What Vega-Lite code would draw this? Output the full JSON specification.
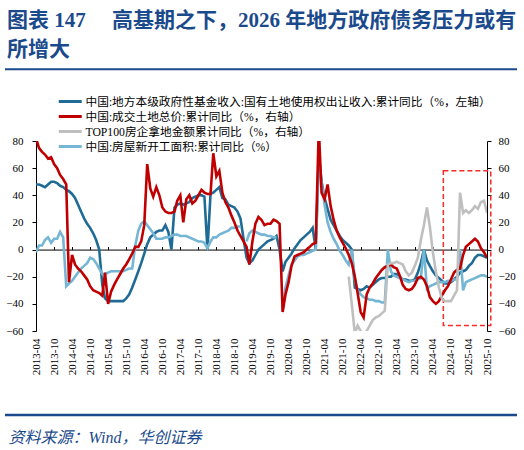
{
  "$schema": "https://vega.github.io/schema/vega-lite/v6.json",
  "width": 451,
  "height": 190,
  "autosize": {"type": "none"},
  "padding": {"left": 36, "top": 141, "right": 37, "bottom": 119},
  "background": "#ffffff",
  "config": {
    "view": {"stroke": null},
    "font": "Liberation Serif, Noto Sans CJK SC",
    "axis": {"grid": false, "labelFont": "Liberation Serif, Noto Sans CJK SC", "labelColor": "#000000", "labelFontSize": 11}
  },
  "title": {
    "text": ["图表 147　 高基期之下，2026 年地方政府债务压力或有", "所增大"],
    "anchor": "start",
    "frame": "group",
    "dx": -29,
    "offset": 8,
    "font": "Liberation Serif, Noto Sans CJK SC",
    "fontSize": 21,
    "fontWeight": "bold",
    "color": "#1b4a8c",
    "lineHeight": 29.5
  },
  "data": {
    "format": {"parse": {"t": "utc:'%Y-%m'"}},
    "values": [
      {"t": "2013-04", "a": 48, "b": 82, "e": -2},
      {"t": "2013-05", "a": 48, "b": 75, "e": 3},
      {"t": "2013-06", "a": 47, "b": 72, "e": 3},
      {"t": "2013-07", "a": 46, "b": 70, "e": 7},
      {"t": "2013-08", "a": 48, "b": 67, "e": 9},
      {"t": "2013-09", "a": 50, "b": 68, "e": 5},
      {"t": "2013-10", "a": 50, "b": 63, "e": 8},
      {"t": "2013-11", "a": 49, "b": 60, "e": 8},
      {"t": "2013-12", "a": 47, "b": 55, "e": 13},
      {"t": "2014-01", "a": 46, "b": 52, "e": 9},
      {"t": "2014-02", "a": 44, "b": 48, "e": -27},
      {"t": "2014-03", "a": 43, "b": -24, "e": -25},
      {"t": "2014-04", "a": 41, "b": -4, "e": -23},
      {"t": "2014-05", "a": 38, "b": -11, "e": -20},
      {"t": "2014-06", "a": 33, "b": -14, "e": -17},
      {"t": "2014-07", "a": 28, "b": -16, "e": -14},
      {"t": "2014-08", "a": 23, "b": -19, "e": -12},
      {"t": "2014-09", "a": 19, "b": -22, "e": -10},
      {"t": "2014-10", "a": 16, "b": -27, "e": -6},
      {"t": "2014-11", "a": 12, "b": -30, "e": -7},
      {"t": "2014-12", "a": 7, "b": -31, "e": -10},
      {"t": "2015-01", "a": 0, "b": -32, "e": -14},
      {"t": "2015-02", "a": -26, "b": -34, "e": -18},
      {"t": "2015-03", "a": -36, "b": -17, "e": -18},
      {"t": "2015-04", "a": -38, "b": -40, "e": -17},
      {"t": "2015-05", "a": -38, "b": -31, "e": -16},
      {"t": "2015-06", "a": -38, "b": -26, "e": -16},
      {"t": "2015-07", "a": -38, "b": -22, "e": -16},
      {"t": "2015-08", "a": -38, "b": -18, "e": -16},
      {"t": "2015-09", "a": -38, "b": -14, "e": -16},
      {"t": "2015-10", "a": -36, "b": -11, "e": -15},
      {"t": "2015-11", "a": -33, "b": -7, "e": -14},
      {"t": "2015-12", "a": -28, "b": -3, "e": -14},
      {"t": "2016-01", "a": -22, "b": 2, "e": 3},
      {"t": "2016-02", "a": -16, "b": 2, "e": 14},
      {"t": "2016-03", "a": -10, "b": 6, "e": 19},
      {"t": "2016-04", "a": -3, "b": 18, "e": 21},
      {"t": "2016-05", "a": 4, "b": 63, "e": 18},
      {"t": "2016-06", "a": 9, "b": 45, "e": 15},
      {"t": "2016-07", "a": 11, "b": 39, "e": 12},
      {"t": "2016-08", "a": 13, "b": 46, "e": 8},
      {"t": "2016-09", "a": 14, "b": 40, "e": 8},
      {"t": "2016-10", "a": 14, "b": 31, "e": 8},
      {"t": "2016-11", "a": 18, "b": 28, "e": 9},
      {"t": "2016-12", "a": 13, "b": 27, "e": 9},
      {"t": "2017-01", "a": 0, "b": 27, "e": 10},
      {"t": "2017-02", "a": 31, "b": 28, "e": 11},
      {"t": "2017-03", "a": 33, "b": 36, "e": 11},
      {"t": "2017-04", "a": 34, "b": 40, "e": 10},
      {"t": "2017-05", "a": 33, "b": 20, "e": 10},
      {"t": "2017-06", "a": 34, "b": 37, "e": 10},
      {"t": "2017-07", "a": 35, "b": 40, "e": 9},
      {"t": "2017-08", "a": 38, "b": 34, "e": 8},
      {"t": "2017-09", "a": 39, "b": 36, "e": 7},
      {"t": "2017-10", "a": 40, "b": 40, "e": 6},
      {"t": "2017-11", "a": 40, "b": 44, "e": 6},
      {"t": "2017-12", "a": 39, "b": 42, "e": 5},
      {"t": "2018-01", "a": 0, "b": 41, "e": 1},
      {"t": "2018-02", "a": 41, "b": 41, "e": 6},
      {"t": "2018-03", "a": 42, "b": 71, "e": 9},
      {"t": "2018-04", "a": 44, "b": 54, "e": 9},
      {"t": "2018-05", "a": 46, "b": 58, "e": 11},
      {"t": "2018-06", "a": 38, "b": 42, "e": 12},
      {"t": "2018-07", "a": 37, "b": 35, "e": 13},
      {"t": "2018-08", "a": 33, "b": 31, "e": 14},
      {"t": "2018-09", "a": 32, "b": 25, "e": 16},
      {"t": "2018-10", "a": 31, "b": 20, "e": 16},
      {"t": "2018-11", "a": 28, "b": 14, "e": 17},
      {"t": "2018-12", "a": 23, "b": 10, "e": 17},
      {"t": "2019-01", "a": 8, "b": 6},
      {"t": "2019-02", "a": -6, "b": 2, "e": 6},
      {"t": "2019-03", "a": -10, "b": -11, "e": 12},
      {"t": "2019-04", "a": -8, "b": 6, "e": 14},
      {"t": "2019-05", "a": -4, "b": 19, "e": 13},
      {"t": "2019-06", "a": 0, "b": 24, "e": 12},
      {"t": "2019-07", "a": 2, "b": 22, "e": 11},
      {"t": "2019-08", "a": 4, "b": 18, "e": 11},
      {"t": "2019-09", "a": 6, "b": 19, "e": 10},
      {"t": "2019-10", "a": 7, "b": 19, "e": 10},
      {"t": "2019-11", "a": 8, "b": 22, "e": 9},
      {"t": "2019-12", "a": 10, "b": 21, "e": 9},
      {"t": "2020-01", "a": 0, "b": 19},
      {"t": "2020-02", "a": -16, "b": -46, "e": -45},
      {"t": "2020-03", "a": -9, "b": -33, "e": -28},
      {"t": "2020-04", "a": -6, "b": -24, "e": -19},
      {"t": "2020-05", "a": -3, "b": -12, "e": -11},
      {"t": "2020-06", "a": 1, "b": -5, "e": -8},
      {"t": "2020-07", "a": 4, "b": -4, "e": -5},
      {"t": "2020-08", "a": 7, "b": -3, "e": -4},
      {"t": "2020-09", "a": 9, "b": -2, "e": -4},
      {"t": "2020-10", "a": 11, "b": 0, "e": -3},
      {"t": "2020-11", "a": 13, "b": 2, "e": -2},
      {"t": "2020-12", "a": 16, "b": 4, "e": -1},
      {"t": "2021-01", "a": 0, "b": 5, "e": 0},
      {"t": "2021-02", "a": 70, "b": 90, "e": 65},
      {"t": "2021-03", "a": 50, "b": 42, "e": 50},
      {"t": "2021-04", "a": 38, "b": 37, "e": 33},
      {"t": "2021-05", "a": 30, "b": 48, "e": 20},
      {"t": "2021-06", "a": 22, "b": 32, "e": 13},
      {"t": "2021-07", "a": 18, "b": 22, "e": 8},
      {"t": "2021-08", "a": 14, "b": 14, "e": 4},
      {"t": "2021-09", "a": 10, "b": 9, "e": -1},
      {"t": "2021-10", "a": 7, "b": 5, "e": -4},
      {"t": "2021-11", "a": 5, "b": 1, "e": -8},
      {"t": "2021-12", "a": 3, "b": -4, "c": -20, "e": -11},
      {"t": "2022-01", "a": 0, "b": -10, "c": -40, "e": 0},
      {"t": "2022-02", "a": -28, "b": -20, "c": -62, "e": -22},
      {"t": "2022-03", "a": -29, "b": -32, "c": -56, "e": -30},
      {"t": "2022-04", "a": -30, "b": -46, "c": -60, "e": -33},
      {"t": "2022-05", "a": -29, "b": -50, "c": -62, "e": -35},
      {"t": "2022-06", "a": -27, "b": -33, "c": -60, "e": -36},
      {"t": "2022-07", "a": -28, "b": -28, "c": -56, "e": -37},
      {"t": "2022-08", "a": -26, "b": -25, "c": -52, "e": -37},
      {"t": "2022-09", "a": -24, "b": -21, "c": -50, "e": -38},
      {"t": "2022-10", "a": -22, "b": -18, "c": -49, "e": -38},
      {"t": "2022-11", "a": -21, "b": -15, "c": -47, "e": -39},
      {"t": "2022-12", "a": -21, "b": -13, "c": -45, "e": -39},
      {"t": "2023-01", "a": -20, "b": -12, "c": -11, "e": 0},
      {"t": "2023-02", "a": -20, "b": -11, "c": -10, "e": -16},
      {"t": "2023-03", "a": -18, "b": -13, "c": -10, "e": -19},
      {"t": "2023-04", "a": -18, "b": -14, "c": -9, "e": -20},
      {"t": "2023-05", "a": -20, "b": -19, "c": -10, "e": -21},
      {"t": "2023-06", "a": -22, "b": -26, "c": -11, "e": -22},
      {"t": "2023-07", "a": -22, "b": -29, "c": -16, "e": -23},
      {"t": "2023-08", "a": -23, "b": -30, "c": -19, "e": -24},
      {"t": "2023-09", "a": -23, "b": -29, "c": -17, "e": -23},
      {"t": "2023-10", "a": -22, "b": -26, "c": -12, "e": -23},
      {"t": "2023-11", "a": -17, "b": -21, "c": -6, "e": -22},
      {"t": "2023-12", "a": -10, "b": -20, "c": 7, "e": -21},
      {"t": "2024-01", "a": 0, "b": -22, "c": 18, "e": 0},
      {"t": "2024-02", "a": -8, "b": -27, "c": 31, "e": -29},
      {"t": "2024-03", "a": -12, "b": -35, "c": 17, "e": -27},
      {"t": "2024-04", "a": -16, "b": -38, "c": -2, "e": -26},
      {"t": "2024-05", "a": -19, "b": -40, "c": -16, "e": -25},
      {"t": "2024-06", "a": -21, "b": -38, "c": -28, "e": -24},
      {"t": "2024-07", "a": -23, "b": -34, "c": -36, "e": -24},
      {"t": "2024-08", "a": -25, "b": -30, "c": -38, "e": -24},
      {"t": "2024-09", "a": -25, "b": -27, "c": -38, "e": -23},
      {"t": "2024-10", "a": -24, "b": -22, "c": -38, "e": -23},
      {"t": "2024-11", "a": -22, "b": -17, "c": -34, "e": -22},
      {"t": "2024-12", "a": -20, "b": -15, "c": -30, "e": -22},
      {"t": "2025-01", "a": -17, "b": -14, "c": 42, "e": 0},
      {"t": "2025-02", "a": -16, "b": -4, "c": 27, "e": -30},
      {"t": "2025-03", "a": -15, "b": 2, "c": 29, "e": -24},
      {"t": "2025-04", "a": -12, "b": 4, "c": 27, "e": -23},
      {"t": "2025-05", "a": -10, "b": 6, "c": 29, "e": -22},
      {"t": "2025-06", "a": -6, "b": 8, "c": 32, "e": -21},
      {"t": "2025-07", "a": -4, "b": 6, "c": 30, "e": -20},
      {"t": "2025-08", "a": -4, "b": 1, "c": 35, "e": -19},
      {"t": "2025-09", "a": -5, "b": -2, "c": 36, "e": -19},
      {"t": "2025-10", "a": -6, "b": -6, "c": 27, "e": -20}
    ]
  },
  "layer": [
    {
      "data": {"values": [{}]},
      "mark": {"type": "rule", "clip": false, "color": "#1b4a8c", "strokeWidth": 2},
      "encoding": {
        "x": {"datum": {"year": 2012, "month": 5, "date": 22, "utc": true}, "type": "temporal", "scale": {"type": "utc"}, "axis": null},
        "x2": {"datum": {"year": 2026, "month": 8, "date": 1, "utc": true}},
        "y": {"datum": 132.8, "type": "quantitative", "axis": null}
      }
    },
    {
      "data": {"values": [{}]},
      "mark": {"type": "rule", "clip": false, "color": "#1b4a8c", "strokeWidth": 2.5},
      "encoding": {
        "x": {"datum": {"year": 2012, "month": 5, "date": 22, "utc": true}, "type": "temporal", "axis": null},
        "x2": {"datum": {"year": 2026, "month": 8, "date": 1, "utc": true}},
        "y": {"datum": -121.9, "type": "quantitative", "axis": null}
      }
    },
    {
      "data": {"values": [{}]},
      "mark": {"type": "rect", "clip": false, "fillOpacity": 0, "stroke": "#f52a2a", "strokeWidth": 1.5, "strokeDash": [5, 3]},
      "encoding": {
        "x": {"datum": {"year": 2024, "month": 7, "date": 16, "utc": true}, "type": "temporal", "axis": null},
        "x2": {"datum": {"year": 2025, "month": 11, "date": 8, "utc": true}},
        "y": {"datum": 58, "type": "quantitative", "axis": null},
        "y2": {"datum": -56}
      }
    },
    {
      "transform": [{"fold": ["a", "e"], "as": ["k", "v"]}],
      "mark": {"type": "line", "clip": true, "strokeWidth": 2.6},
      "encoding": {
        "x": {
          "field": "t",
          "type": "temporal",
          "scale": {"type": "utc", "domain": [{"year": 2013, "month": 4, "date": 1, "utc": true}, {"year": 2025, "month": 10, "date": 1, "utc": true}]},
          "axis": {
            "orient": "bottom",
            "values": [
              {"year": 2013, "month": 4, "utc": true}, {"year": 2013, "month": 10, "utc": true},
              {"year": 2014, "month": 4, "utc": true}, {"year": 2014, "month": 10, "utc": true},
              {"year": 2015, "month": 4, "utc": true}, {"year": 2015, "month": 10, "utc": true},
              {"year": 2016, "month": 4, "utc": true}, {"year": 2016, "month": 10, "utc": true},
              {"year": 2017, "month": 4, "utc": true}, {"year": 2017, "month": 10, "utc": true},
              {"year": 2018, "month": 4, "utc": true}, {"year": 2018, "month": 10, "utc": true},
              {"year": 2019, "month": 4, "utc": true}, {"year": 2019, "month": 10, "utc": true},
              {"year": 2020, "month": 4, "utc": true}, {"year": 2020, "month": 10, "utc": true},
              {"year": 2021, "month": 4, "utc": true}, {"year": 2021, "month": 10, "utc": true},
              {"year": 2022, "month": 4, "utc": true}, {"year": 2022, "month": 10, "utc": true},
              {"year": 2023, "month": 4, "utc": true}, {"year": 2023, "month": 10, "utc": true},
              {"year": 2024, "month": 4, "utc": true}, {"year": 2024, "month": 10, "utc": true},
              {"year": 2025, "month": 4, "utc": true}, {"year": 2025, "month": 10, "utc": true}
            ],
            "format": "%Y-%m",
            "labelAngle": -90,
            "labelAlign": "right",
            "labelBaseline": "middle",
            "labelPadding": 7,
            "labelOverlap": false,
            "labelFlush": false,
            "domain": false,
            "ticks": false,
            "title": "资料来源：Wind，华创证券",
            "titleX": -28,
            "titleY": 106,
            "titleAlign": "left",
            "titleAnchor": "start",
            "titleBaseline": "middle",
            "titleAngle": 0,
            "titleFont": "Liberation Serif, Noto Sans CJK SC",
            "titleFontSize": 16,
            "titleFontStyle": "italic",
            "titleFontWeight": "normal",
            "titleColor": "#1b4a8c"
          }
        },
        "y": {
          "field": "v",
          "type": "quantitative",
          "scale": {"domain": [-60, 80], "nice": false, "zero": false},
          "axis": {"orient": "left", "values": [-60, -40, -20, 0, 20, 40, 60, 80], "title": null, "domainColor": "#000000", "tickColor": "#000000", "tickSize": 4, "labelPadding": 9}
        },
        "color": {
          "field": "k",
          "type": "nominal",
          "scale": {"domain": ["a", "b", "c", "e"], "range": ["#1f6b96", "#c00000", "#bfbfbf", "#74b6d4"]},
          "legend": {
            "orient": "none",
            "legendX": 26.75,
            "legendY": -47,
            "title": null,
            "symbolType": "M-2,0H2",
            "symbolSize": 132,
            "symbolStrokeWidth": 3,
            "rowPadding": 0,
            "labelOffset": 7.75,
            "labelFont": "Liberation Serif, Noto Sans CJK SC",
            "labelFontSize": 11.7,
            "labelColor": "#000000",
            "labelLimit": 600,
            "labelExpr": "{'a': '中国:地方本级政府性基金收入:国有土地使用权出让收入:累计同比（%，左轴）', 'b': '中国:成交土地总价:累计同比（%，右轴）', 'c': 'TOP100房企拿地金额累计同比（%，右轴）', 'e': '中国:房屋新开工面积:累计同比（%）'}[datum.label]"
          }
        }
      }
    },
    {
      "transform": [{"fold": ["b", "c"], "as": ["k", "v"]}],
      "mark": {"type": "line", "clip": true, "strokeWidth": 2.6},
      "encoding": {
        "x": {
          "field": "t",
          "type": "temporal",
          "axis": {
            "orient": "bottom",
            "offset": -81.43,
            "values": [
              {"year": 2013, "month": 4, "utc": true}, {"year": 2013, "month": 10, "utc": true},
              {"year": 2014, "month": 4, "utc": true}, {"year": 2014, "month": 10, "utc": true},
              {"year": 2015, "month": 4, "utc": true}, {"year": 2015, "month": 10, "utc": true},
              {"year": 2016, "month": 4, "utc": true}, {"year": 2016, "month": 10, "utc": true},
              {"year": 2017, "month": 4, "utc": true}, {"year": 2017, "month": 10, "utc": true},
              {"year": 2018, "month": 4, "utc": true}, {"year": 2018, "month": 10, "utc": true},
              {"year": 2019, "month": 4, "utc": true}, {"year": 2019, "month": 10, "utc": true},
              {"year": 2020, "month": 4, "utc": true}, {"year": 2020, "month": 10, "utc": true},
              {"year": 2021, "month": 4, "utc": true}, {"year": 2021, "month": 10, "utc": true},
              {"year": 2022, "month": 4, "utc": true}, {"year": 2022, "month": 10, "utc": true},
              {"year": 2023, "month": 4, "utc": true}, {"year": 2023, "month": 10, "utc": true},
              {"year": 2024, "month": 4, "utc": true}, {"year": 2024, "month": 10, "utc": true},
              {"year": 2025, "month": 4, "utc": true}, {"year": 2025, "month": 10, "utc": true}
            ],
            "labels": false,
            "domain": true,
            "domainColor": "#000000",
            "ticks": true,
            "tickColor": "#000000",
            "tickSize": -3,
            "title": null
          }
        },
        "y": {
          "field": "v",
          "type": "quantitative",
          "axis": {"orient": "right", "values": [-60, -40, -20, 0, 20, 40, 60, 80], "title": null, "domainColor": "#000000", "tickColor": "#000000", "tickSize": 4, "labelPadding": 7}
        },
        "color": {"field": "k", "type": "nominal", "scale": {"domain": ["a", "b", "c", "e"], "range": ["#1f6b96", "#c00000", "#bfbfbf", "#74b6d4"]}}
      }
    }
  ],
  "resolve": {"axis": {"x": "independent", "y": "independent"}}
}
